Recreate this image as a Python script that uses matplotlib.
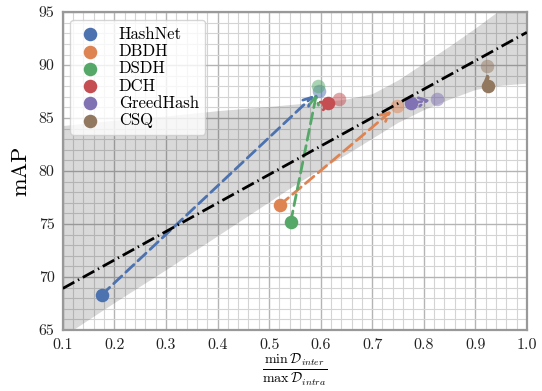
import numpy as np
import matplotlib
matplotlib.use("Agg")
import matplotlib.pyplot as plt
from matplotlib.patches import FancyArrowPatch
from matplotlib.ticker import MultipleLocator

# ---------------- data ----------------
methods = ["HashNet", "DBDH", "DSDH", "DCH", "GreedHash", "CSQ"]
colors = ["#4C72B0", "#DD8452", "#55A868", "#C44E52", "#8172B3", "#937860"]
start_x = [0.175, 0.521, 0.542, 0.615, 0.775, 0.925]
start_y = [68.3, 76.8, 75.2, 86.4, 86.4, 88.05]
end_x = [0.597, 0.748, 0.595, 0.635, 0.826, 0.922]
end_y = [87.6, 86.1, 88.0, 86.8, 86.8, 89.9]

# confidence band edges
ci_x = [0.1, 0.2, 0.3, 0.4, 0.5, 0.556, 0.6, 0.65, 0.7, 0.75, 0.8, 0.85, 0.9, 0.95, 1.0]
ci_lower = [64.4, 67.6, 70.7, 73.9, 77.1, 78.9, 80.2, 81.6, 83.1, 84.6, 85.8, 86.8, 87.7, 88.1, 88.3]
ci_upper = [84.3, 84.8, 85.2, 85.7, 86.1, 86.35, 86.5, 86.8, 87.3, 88.6, 90.2, 91.8, 93.5, 95.3, 97.0]

x_ticks = [0.1, 0.2, 0.3, 0.4, 0.5, 0.6, 0.7, 0.8, 0.9, 1.0]
y_ticks = [65, 70, 75, 80, 85, 90, 95]

# ---------------- style ----------------
plt.rcParams["font.family"] = "serif"
plt.rcParams["font.serif"] = ["cmr10", "DejaVu Serif"]
plt.rcParams["mathtext.fontset"] = "cm"
plt.rcParams["axes.formatter.use_mathtext"] = True

fig = plt.figure(figsize=(5.42, 3.91), dpi=100)
ax = fig.add_axes([0.116, 0.156, 0.856, 0.813])

ax.set_xlim(0.1, 1.0)
ax.set_ylim(65, 95)
ax.xaxis.set_major_locator(MultipleLocator(0.1))
ax.xaxis.set_minor_locator(MultipleLocator(0.02))
ax.yaxis.set_major_locator(MultipleLocator(5))
ax.yaxis.set_minor_locator(MultipleLocator(1))
ax.set_xticks(x_ticks)
ax.set_xticklabels([f"{v:.1f}" for v in x_ticks])
ax.set_yticks(y_ticks)
ax.set_yticklabels([str(v) for v in y_ticks])
ax.set_axisbelow(True)
ax.grid(which="major", color="#b4b4b4", lw=1.0)
ax.grid(which="minor", color="#d4d4d4", lw=0.8)
ax.tick_params(which="both", length=0, labelsize=11.5, pad=6, colors="#222222")
for s in ax.spines.values():
    s.set_color("#999999")
    s.set_linewidth(1.6)

# regression over all points
all_x = np.array(start_x + end_x)
all_y = np.array(start_y + end_y)
slope, intercept = np.polyfit(all_x, all_y, 1)
xx = np.array([0.1, 1.0])
ax.plot(xx, intercept + slope * xx, color="black", lw=2.0,
        linestyle=(0, (4.7, 1.5, 0.5, 1.5)), zorder=6)
ax.fill_between(ci_x, ci_lower, ci_upper, color="black", alpha=0.15, lw=0, zorder=1)

for i, m in enumerate(methods):
    c = colors[i]
    arr = FancyArrowPatch((start_x[i], start_y[i]), (end_x[i], end_y[i]),
                          arrowstyle="->", mutation_scale=15, color=c, lw=2.0,
                          linestyle=(0, (4, 2)), shrinkA=0, shrinkB=5, zorder=3)
    ax.add_patch(arr)
    ax.scatter([end_x[i]], [end_y[i]], s=95, color=c, alpha=0.5, lw=0, zorder=4)
    ax.scatter([start_x[i]], [start_y[i]], s=95, color=c, lw=0, zorder=5, label=m)

leg = ax.legend(loc="upper left", fontsize=12, labelspacing=0.12, borderpad=0.4,
                handletextpad=0.9, handlelength=1.6, framealpha=0.8, edgecolor="#cccccc",
                bbox_to_anchor=(0.0, 1.0), borderaxespad=0.45, scatterpoints=1)
leg.get_frame().set_linewidth(1.0)

ax.set_ylabel("mAP", fontsize=16, labelpad=6)
ax.set_xlabel(r"$\frac{\min\,\mathcal{D}_{inter}}{\max\,\mathcal{D}_{intra}}$", fontsize=14.5, labelpad=0)

fig.savefig("out.png", dpi=100)
